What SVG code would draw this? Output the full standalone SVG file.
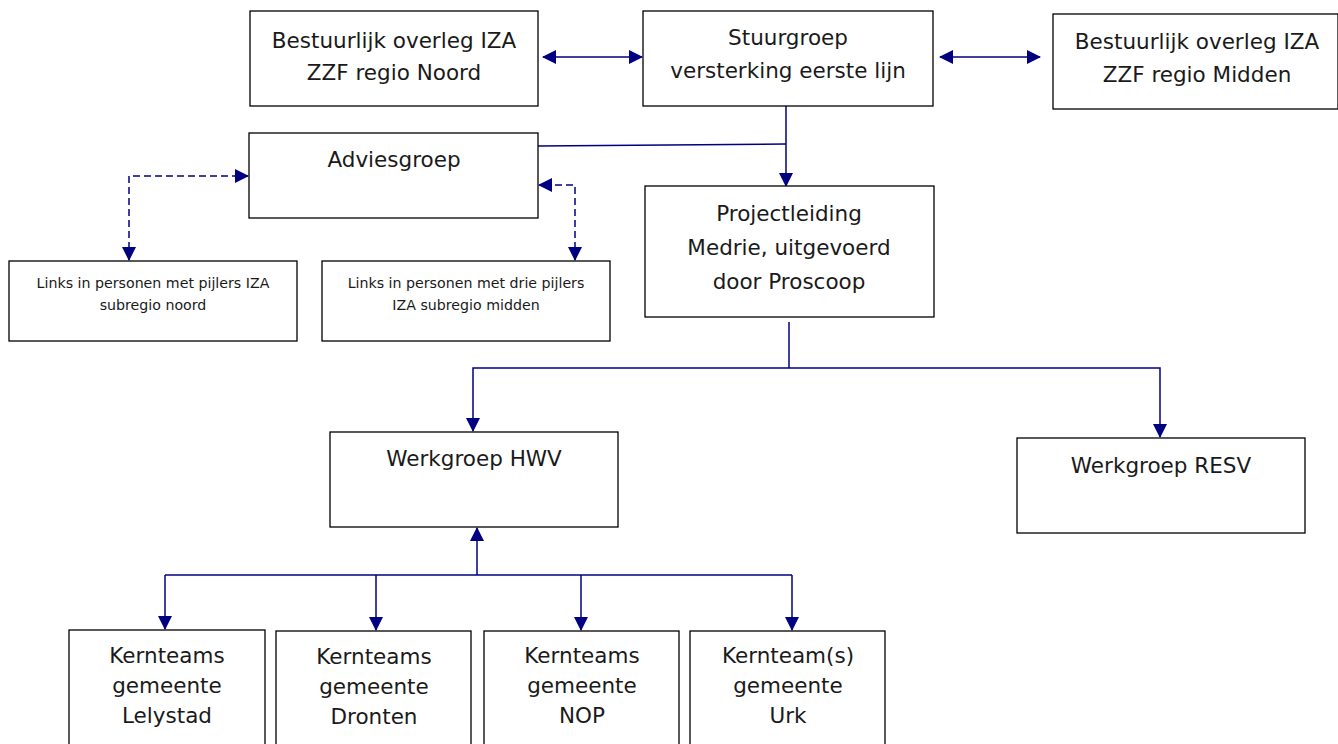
<svg xmlns="http://www.w3.org/2000/svg" width="1338" height="744" viewBox="0 0 1338 744">
<style>
.box{fill:#fff;stroke:#000;stroke-width:1.3}
.t{font-family:"DejaVu Sans",sans-serif;font-size:21.5px;fill:#1a1a1a;text-anchor:middle}
.s{font-family:"DejaVu Sans",sans-serif;font-size:14.2px;fill:#1a1a1a;text-anchor:middle}
.c{fill:none;stroke:#000080;stroke-width:1.5}
.d{fill:none;stroke:#000080;stroke-width:1.5;stroke-dasharray:7,4}
</style>
<defs>
<marker id="ah" viewBox="0 0 14 14" refX="13" refY="7" markerWidth="14" markerHeight="14" markerUnits="userSpaceOnUse" orient="auto-start-reverse">
<path d="M0,0 L14,7 L0,14 Z" fill="#000080"/>
</marker>
</defs>
<rect width="1338" height="744" fill="#fff"/>
<g id="connectors">
<line class="c" x1="543" y1="57" x2="642" y2="57" marker-start="url(#ah)" marker-end="url(#ah)"/>
<line class="c" x1="940" y1="57" x2="1040" y2="57" marker-start="url(#ah)" marker-end="url(#ah)"/>
<line class="c" x1="786" y1="106" x2="786" y2="186" marker-end="url(#ah)"/>
<line class="c" x1="538" y1="146" x2="786" y2="144"/>
<polyline class="d" points="129,260 129,176 248,176" marker-start="url(#ah)" marker-end="url(#ah)"/>
<polyline class="d" points="575,260 575,185 539,185" marker-start="url(#ah)" marker-end="url(#ah)"/>
<line class="c" x1="789" y1="322" x2="789" y2="368"/>
<polyline class="c" points="473,431 473,368 1160,368 1160,437" marker-start="url(#ah)" marker-end="url(#ah)"/>
<line class="c" x1="477" y1="575" x2="477" y2="528" marker-end="url(#ah)"/>
<line class="c" x1="165" y1="575" x2="792" y2="575"/>
<line class="c" x1="165" y1="575" x2="165" y2="629" marker-end="url(#ah)"/>
<line class="c" x1="376" y1="575" x2="376" y2="630" marker-end="url(#ah)"/>
<line class="c" x1="581" y1="575" x2="581" y2="630" marker-end="url(#ah)"/>
<line class="c" x1="792" y1="575" x2="792" y2="630" marker-end="url(#ah)"/>
</g>
<g id="noord">
<rect class="box" x="250" y="11" width="288" height="95"/>
<text class="t" x="394" y="48">Bestuurlijk overleg IZA</text>
<text class="t" x="394" y="80">ZZF regio Noord</text>
</g>
<g id="stuurgroep">
<rect class="box" x="643" y="11" width="290" height="95"/>
<text class="t" x="788" y="45">Stuurgroep</text>
<text class="t" x="788" y="78">versterking eerste lijn</text>
</g>
<g id="midden">
<rect class="box" x="1053" y="14" width="285" height="95"/>
<text class="t" x="1197" y="49">Bestuurlijk overleg IZA</text>
<text class="t" x="1197" y="82">ZZF regio Midden</text>
</g>
<g id="adviesgroep">
<rect class="box" x="249" y="133" width="289" height="85"/>
<text class="t" x="394" y="167">Adviesgroep</text>
</g>
<g id="projectleiding">
<rect class="box" x="645" y="186" width="289" height="131"/>
<text class="t" x="789" y="221">Projectleiding</text>
<text class="t" x="789" y="255">Medrie, uitgevoerd</text>
<text class="t" x="789" y="289">door Proscoop</text>
</g>
<g id="links-noord">
<rect class="box" x="9" y="261" width="288" height="80"/>
<text class="s" x="153" y="288">Links in personen met pijlers IZA</text>
<text class="s" x="153" y="310">subregio noord</text>
</g>
<g id="links-midden">
<rect class="box" x="322" y="261" width="288" height="80"/>
<text class="s" x="466" y="288">Links in personen met drie pijlers</text>
<text class="s" x="466" y="310">IZA subregio midden</text>
</g>
<g id="hwv">
<rect class="box" x="330" y="432" width="288" height="95"/>
<text class="t" x="474" y="466">Werkgroep HWV</text>
</g>
<g id="resv">
<rect class="box" x="1017" y="438" width="288" height="95"/>
<text class="t" x="1161" y="473">Werkgroep RESV</text>
</g>
<g id="lelystad">
<rect class="box" x="69" y="630" width="196" height="120"/>
<text class="t" x="167" y="663">Kernteams</text>
<text class="t" x="167" y="693">gemeente</text>
<text class="t" x="167" y="723">Lelystad</text>
</g>
<g id="dronten">
<rect class="box" x="276" y="631" width="195" height="120"/>
<text class="t" x="374" y="664">Kernteams</text>
<text class="t" x="374" y="694">gemeente</text>
<text class="t" x="374" y="724">Dronten</text>
</g>
<g id="nop">
<rect class="box" x="484" y="631" width="195" height="120"/>
<text class="t" x="582" y="663">Kernteams</text>
<text class="t" x="582" y="693">gemeente</text>
<text class="t" x="582" y="723">NOP</text>
</g>
<g id="urk">
<rect class="box" x="690" y="631" width="195" height="120"/>
<text class="t" x="788" y="663">Kernteam(s)</text>
<text class="t" x="788" y="693">gemeente</text>
<text class="t" x="788" y="723">Urk</text>
</g>
</svg>
